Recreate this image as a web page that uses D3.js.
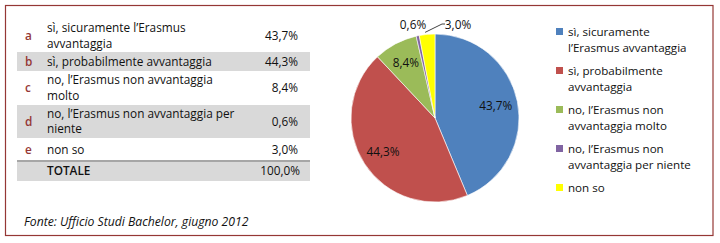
<!DOCTYPE html>
<html>
<head>
<meta charset="utf-8">
<script src="https://cdn.jsdelivr.net/npm/d3@7"></script>
<style>
  body { margin: 0; background: #fff; }
  svg text { font-family: "Open Sans", "Noto Sans", sans-serif; }
</style>
</head>
<body>
<svg id="chart" width="720" height="243"></svg>
<script>
// data
const letters = ["a", "b", "c", "d", "e"];
const tableLabels = [
    ["sì, sicuramente l’Erasmus", "avvantaggia"],
    ["sì, probabilmente avvantaggia"],
    ["no, l’Erasmus non avvantaggia", "molto"],
    ["no, l’Erasmus non avvantaggia per", "niente"],
    ["non so"]
];
const legendLabels = [
    ["sì, sicuramente", "l’Erasmus avvantaggia"],
    ["sì, probabilmente", "avvantaggia"],
    ["no, l’Erasmus non", "avvantaggia molto"],
    ["no, l’Erasmus non", "avvantaggia per niente"],
    ["non so"]
];
const values = [43.7, 44.3, 8.4, 0.6, 3.0];
const totalLabel = "TOTALE";
const totalValue = 100.0;
const colors = ["#4F81BD", "#C0504D", "#9BBB59", "#8064A2", "#FFFF00"];
const source = "Fonte: Ufficio Studi Bachelor, giugno 2012";

const fmt = v => v.toFixed(1).replace(".", ",") + "%";

const svg = d3.select("#chart");
const ink = "#111";

// outer frame
svg.append("rect")
    .attr("x", 5.5).attr("y", 5.5)
    .attr("width", 707.5).attr("height", 230)
    .attr("fill", "none").attr("stroke", "#953735").attr("stroke-width", 1.2);

// Table
const rowTops = [20, 52, 71, 105, 138, 161, 181];
const tx0 = 17, tx1 = 310, fs = 11.8;
const table = svg.append("g").attr("font-size", fs);

rowTops.slice(0, 6).forEach((top, i) => {
    if (i % 2 === 1) {
        table.append("rect")
            .attr("x", tx0).attr("y", top)
            .attr("width", tx1 - tx0).attr("height", rowTops[i + 1] - top)
            .attr("fill", "#D9D9D9");
    }
});
table.append("line")
    .attr("x1", tx0).attr("x2", tx1).attr("y1", 161).attr("y2", 161)
    .attr("stroke", "#A6A6A6").attr("stroke-width", 2);

values.forEach((v, i) => {
    const top = rowTops[i], bot = rowTops[i + 1], mid = (top + bot) / 2;
    const lines = tableLabels[i];
    table.append("text")
        .attr("x", 25).attr("y", mid + 4)
        .attr("fill", "#953735").attr("font-weight", 600)
        .text(letters[i]);
    lines.forEach((t, j) => {
        table.append("text")
            .attr("x", 47)
            .attr("y", mid + 4 + (j - (lines.length - 1) / 2) * 15.5)
            .attr("fill", ink)
            .text(t);
    });
    table.append("text")
        .attr("x", 298).attr("y", mid + 4)
        .attr("text-anchor", "end").attr("fill", ink)
        .text(fmt(v));
});
table.append("text")
    .attr("x", 47).attr("y", 175).attr("fill", ink)
    .attr("font-weight", 600).text(totalLabel);
table.append("text")
    .attr("x", 300).attr("y", 175).attr("text-anchor", "end").attr("fill", ink)
    .text(fmt(totalValue));

svg.append("text")
    .attr("x", 24).attr("y", 226)
    .attr("font-size", 12.2).attr("font-style", "italic").attr("fill", ink)
    .text(source);

// Pie
const cx = 435, cy = 118, r = 84;
const pie = d3.pie().sort(null).value(d => d);
const arcs = pie(values);
const arc = d3.arc().innerRadius(0).outerRadius(r);
const labelArc = d3.arc().innerRadius(62).outerRadius(62);

const gPie = svg.append("g").attr("transform", `translate(${cx},${cy})`);
gPie.selectAll("path.slice").data(arcs).join("path")
    .attr("class", "slice")
    .attr("d", arc)
    .attr("fill", (d, i) => colors[i])
    .attr("stroke", "#fff").attr("stroke-width", 0.6);

const outside = [[-22, -93], [23, -93]];
gPie.selectAll("text.lbl").data(arcs).join("text")
    .attr("class", "lbl")
    .attr("font-size", fs).attr("fill", ink)
    .attr("text-anchor", "middle")
    .attr("transform", (d, i) => {
        if (i >= 3) { const o = outside[i - 3]; return `translate(${o[0]},${o[1] + 4})`; }
        const c = labelArc.centroid(d);
        return `translate(${c[0]},${c[1] + 4})`;
    })
    .text(d => fmt(d.data));

// leader line for the small yellow slice
const yc = d3.arc().innerRadius(r).outerRadius(r).centroid(arcs[4]);
gPie.append("path")
    .attr("d", `M${yc[0] - 2},${yc[1] - 2}L${7},${-94}H${10}`)
    .attr("fill", "none").attr("stroke", ink).attr("stroke-width", 0.8);

// Legend
const legend = svg.append("g").attr("font-size", 11.6);
const legTops = [36, 75, 114, 153, 192];
legendLabels.forEach((lines, i) => {
    legend.append("rect")
        .attr("x", 556).attr("y", legTops[i] - 8)
        .attr("width", 7).attr("height", 7)
        .attr("fill", colors[i]);
    lines.forEach((t, j) => {
        legend.append("text")
            .attr("x", 568).attr("y", legTops[i] + j * 16)
            .attr("fill", ink)
            .text(t);
    });
});
</script>
</body>
</html>
